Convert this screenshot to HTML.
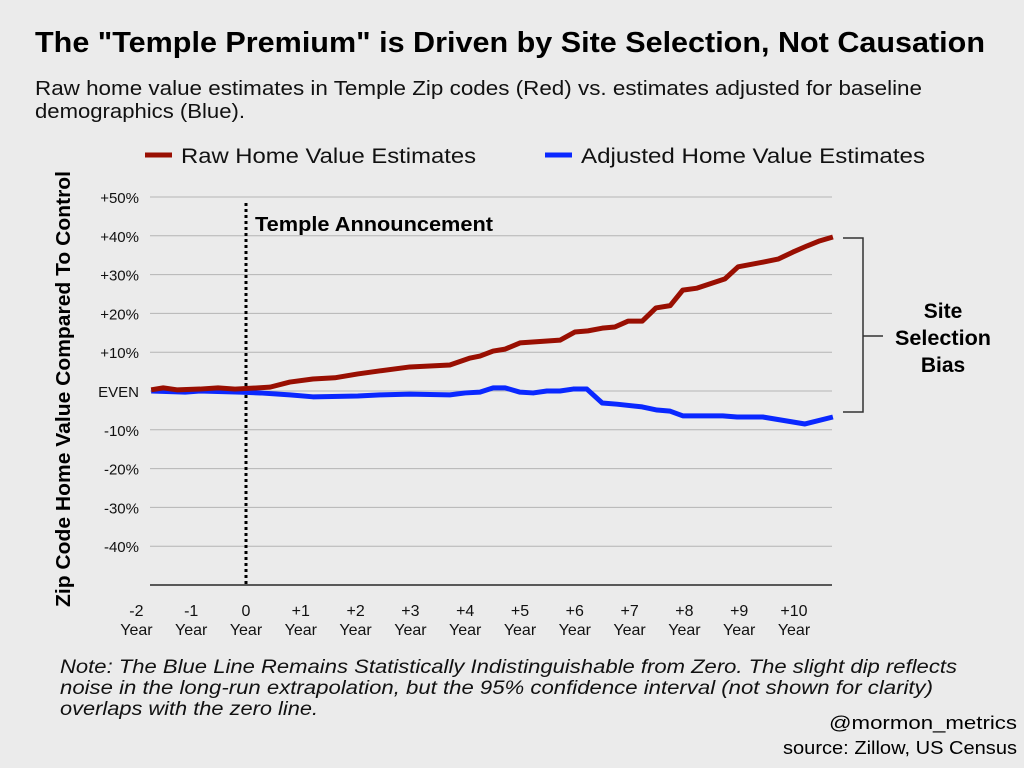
<!DOCTYPE html>
<html><head><meta charset="utf-8"><style>
body{margin:0;background:#ebebeb;width:1024px;height:768px;overflow:hidden;font-family:"Liberation Sans",sans-serif}
svg{position:absolute;left:0;top:0}
</style></head><body>
<svg width="1024" height="768">
<text x="510" y="52" text-anchor="middle" font-size="29" font-weight="bold" fill="#000" textLength="950" lengthAdjust="spacingAndGlyphs">The "Temple Premium" is Driven by Site Selection, Not Causation</text>
<text x="35" y="95" font-size="20" fill="#111" textLength="887" lengthAdjust="spacingAndGlyphs">Raw home value estimates in Temple Zip codes (Red) vs. estimates adjusted for baseline</text>
<text x="35" y="118" font-size="20" fill="#111" textLength="210" lengthAdjust="spacingAndGlyphs">demographics (Blue).</text>
<g>
<line x1="145" y1="155" x2="172" y2="155" stroke="#990f02" stroke-width="5"/>
<text x="181" y="163" font-size="21" fill="#111" textLength="295" lengthAdjust="spacingAndGlyphs">Raw Home Value Estimates</text>
<line x1="545" y1="155" x2="572" y2="155" stroke="#0a28ff" stroke-width="5"/>
<text x="581" y="163" font-size="21" fill="#111" textLength="344" lengthAdjust="spacingAndGlyphs">Adjusted Home Value Estimates</text>
</g>
<text transform="translate(70,389) rotate(-90)" text-anchor="middle" font-size="20" font-weight="bold" fill="#000" textLength="436" lengthAdjust="spacingAndGlyphs">Zip Code Home Value Compared To Control</text>
<g id="grid"></g><g id="yt"></g><g id="xt"></g><g id="lines"></g>
<text x="255" y="231" font-size="20" font-weight="bold" fill="#000" textLength="238" lengthAdjust="spacingAndGlyphs">Temple Announcement</text>
<g stroke="#333" stroke-width="1.5" fill="none">
<polyline points="843,238 863,238 863,412 843,412"/><line x1="863" y1="336" x2="883" y2="336"/></g>
<g font-size="21" font-weight="bold" text-anchor="middle" fill="#000">
<text x="943" y="318">Site</text><text x="943" y="345" textLength="96" lengthAdjust="spacingAndGlyphs">Selection</text><text x="943" y="372">Bias</text></g>
<g font-size="19" font-style="italic" fill="#111">
<text x="60" y="673" textLength="897" lengthAdjust="spacingAndGlyphs">Note: The Blue Line Remains Statistically Indistinguishable from Zero. The slight dip reflects</text>
<text x="60" y="694" textLength="873" lengthAdjust="spacingAndGlyphs">noise in the long-run extrapolation, but the 95% confidence interval (not shown for clarity)</text>
<text x="60" y="715" textLength="258" lengthAdjust="spacingAndGlyphs">overlaps with the zero line.</text></g>
<text x="1017" y="729" text-anchor="end" font-size="18" fill="#000" textLength="188" lengthAdjust="spacingAndGlyphs">@mormon_metrics</text>
<text x="1017" y="754" text-anchor="end" font-size="18" fill="#000" textLength="234" lengthAdjust="spacingAndGlyphs">source: Zillow, US Census</text>
</svg>
<script>
const yTicks=[50,40,30,20,10,0,-10,-20,-30,-40];
const yTickLabels=["+50%","+40%","+30%","+20%","+10%","EVEN","-10%","-20%","-30%","-40%"];
const xTicks=[-2,-1,0,1,2,3,4,5,6,7,8,9,10];
const xTickLabels=["-2","-1","0","+1","+2","+3","+4","+5","+6","+7","+8","+9","+10"];
const rawYears=[-1.73,-1.51,-1.26,-0.84,-0.51,-0.2,0.22,0.44,0.8,1.22,1.62,2.04,2.45,2.99,3.72,4.09,4.27,4.51,4.73,5.0,5.73,6.0,6.24,6.5,6.73,6.97,7.23,7.48,7.74,7.97,8.23,8.74,8.98,9.43,9.71,9.98,10.24,10.47,10.71];
const rawValues=[0.3,0.8,0.3,0.5,0.8,0.5,0.8,1.0,2.3,3.1,3.4,4.4,5.2,6.2,6.7,8.5,9.0,10.3,10.8,12.4,13.1,15.2,15.5,16.2,16.5,18.0,18.0,21.4,22.0,26.0,26.5,28.9,32.0,33.2,34.0,35.8,37.4,38.7,39.7];
const adjYears=[-1.73,-1.11,-0.84,-0.11,0.26,0.8,1.22,2.04,2.45,2.99,3.72,4.0,4.27,4.51,4.73,5.0,5.24,5.49,5.73,5.97,6.22,6.5,6.77,7.23,7.5,7.74,7.97,8.7,8.96,9.43,10.2,10.71];
const adjValues=[0,-0.3,0,-0.3,-0.5,-1.0,-1.5,-1.3,-1.0,-0.8,-1.0,-0.5,-0.3,0.8,0.8,-0.3,-0.5,0,0,0.5,0.5,-3.1,-3.4,-4.1,-4.9,-5.2,-6.4,-6.4,-6.7,-6.7,-8.5,-6.7];
const NS="http://www.w3.org/2000/svg";
const X=v=>246+v*54.8, Y=v=>391-v*3.88;
const x0=150,x1=832;
function mk(t,a,p){const e=document.createElementNS(NS,t);for(const k in a)e.setAttribute(k,a[k]);p.appendChild(e);return e;}
const grid=document.getElementById('grid'),yt=document.getElementById('yt'),xt=document.getElementById('xt'),ln=document.getElementById('lines');
yTicks.forEach((v,i)=>{
 const g=mk('line',{x1:x0,x2:x1,y1:Y(v),y2:Y(v),stroke:'#b4b4b4','stroke-width':1},grid);
 
 
 const t=mk('text',{x:139,y:Y(v)+6,'text-anchor':'end','font-size':15,fill:'#111'},yt);t.textContent=yTickLabels[i];
 
 
});
const ax=mk('line',{x1:x0,x2:x1,y1:Y(-50),y2:Y(-50),stroke:'#000','stroke-width':1.2},grid);


xTicks.forEach((v,i)=>{
 const t=mk('text',{x:X(v),y:616,'text-anchor':'middle','font-size':16,fill:'#111'},xt);t.textContent=xTickLabels[i];
 
 
 const t2=mk('text',{x:X(v),y:635,'text-anchor':'middle','font-size':16,fill:'#111'},xt);t2.textContent='Year';
 
 
});
const ann=mk('line',{x1:X(0),x2:X(0),y1:203,y2:Y(-50),stroke:'#000','stroke-width':3,'stroke-dasharray':'3,3'},ln);


function series(xs,vs,c,name){
 const p=mk('polyline',{points:xs.map((x,i)=>X(x)+','+Y(vs[i])).join(' '),fill:'none',stroke:c,'stroke-width':5,'stroke-linejoin':'round'},ln);
 
 
}
series(adjYears,adjValues,'#0a28ff','adjusted-line');
series(rawYears,rawValues,'#990f02','raw-line');
</script>
</body></html>
